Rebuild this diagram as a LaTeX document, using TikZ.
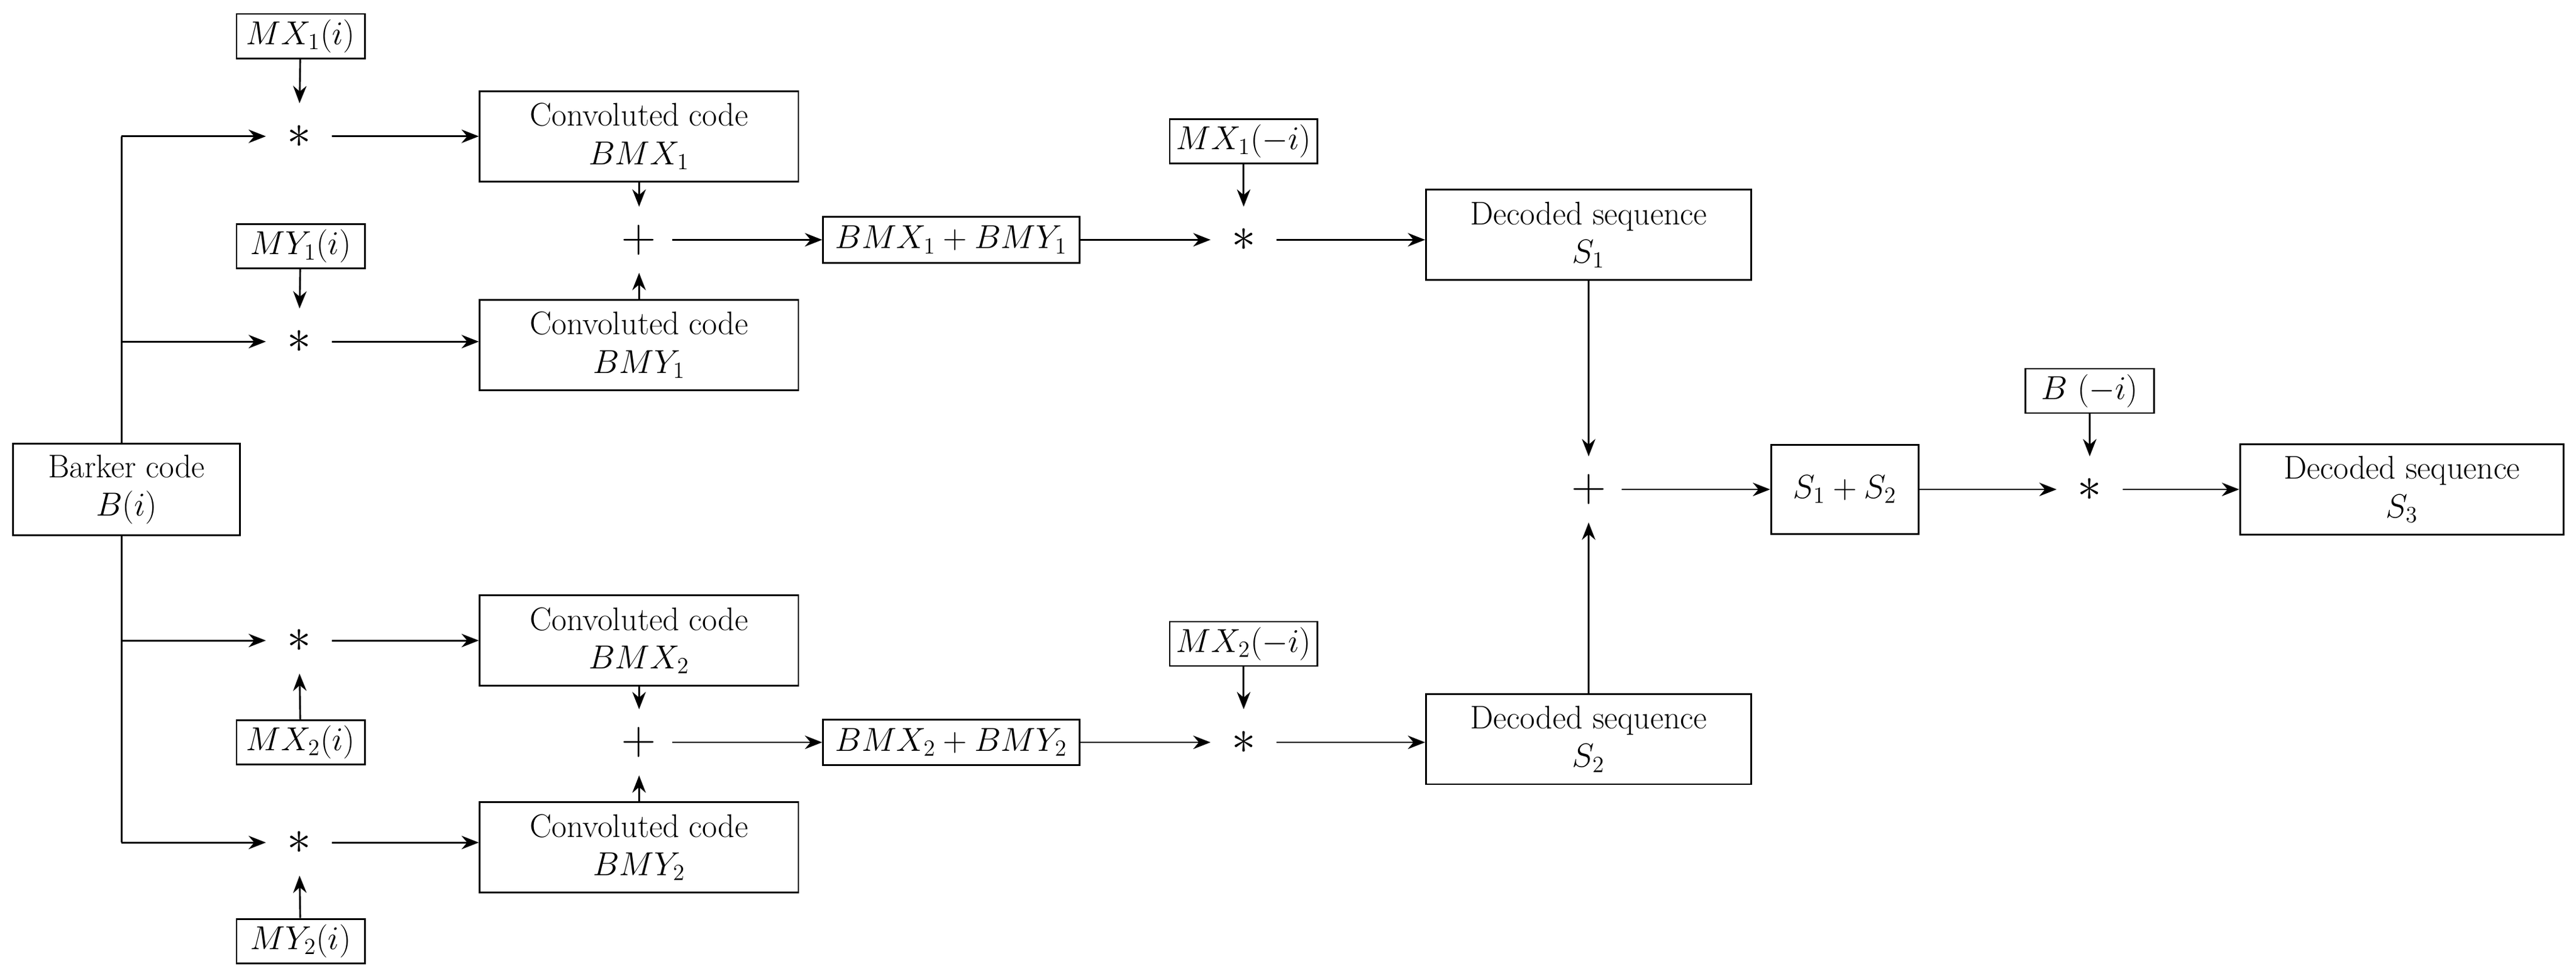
\documentclass[tikz,border=0pt]{standalone}
\usetikzlibrary{arrows.meta}
\begin{document}
\begin{tikzpicture}[x=0.03cm,y=-0.03cm,
  every node/.style={font=\fontsize{17}{20}\selectfont},
  box/.style={draw,line width=0.9pt,align=center,inner sep=0pt},
  op/.style={inner sep=0pt,minimum size=34,font=\fontsize{34}{34}\selectfont},
  ar/.style={-{Stealth[length=9pt,width=7pt]},line width=0.9pt},
  ln/.style={line width=0.9pt}]
\useasboundingbox (0,0) rectangle (1568,591);
\node[box,minimum width=138*0.03cm,minimum height=56*0.03cm] (bark) at (77,298) {Barker code\\$B(i)$};
\foreach \n/\y in {a/83,b/208,c/390,d/513}{
  \node[op] (s\n) at (182,\y) {$*$};
  \coordinate (j\n) at (74,\y);
}
\node[box,minimum width=78*0.03cm,minimum height=27*0.03cm] (m1) at (183,22) {$MX_1(i)$};
\node[box,minimum width=78*0.03cm,minimum height=27*0.03cm] (m2) at (183,150) {$MY_1(i)$};
\node[box,minimum width=78*0.03cm,minimum height=27*0.03cm] (m3) at (183,452) {$MX_2(i)$};
\node[box,minimum width=78*0.03cm,minimum height=27*0.03cm] (m4) at (183,573) {$MY_2(i)$};
\node[box,minimum width=194*0.03cm,minimum height=55*0.03cm] (ca) at (389,83) {Convoluted code\\$BMX_1$};
\node[box,minimum width=194*0.03cm,minimum height=55*0.03cm] (cb) at (389,210) {Convoluted code\\$BMY_1$};
\node[box,minimum width=194*0.03cm,minimum height=55*0.03cm] (cc) at (389,390) {Convoluted code\\$BMX_2$};
\node[box,minimum width=194*0.03cm,minimum height=55*0.03cm] (cd) at (389,516) {Convoluted code\\$BMY_2$};
\node[op] (p1) at (389,146) {$+$};
\node[op] (p2) at (389,452) {$+$};
\node[box,minimum width=156*0.03cm,minimum height=28*0.03cm] (u1) at (579,146) {$BMX_1+BMY_1$};
\node[box,minimum width=156*0.03cm,minimum height=28*0.03cm] (u2) at (579,452) {$BMX_2+BMY_2$};
\node[box,minimum width=90*0.03cm,minimum height=27*0.03cm] (n1) at (757,86) {$MX_1(-i)$};
\node[box,minimum width=90*0.03cm,minimum height=27*0.03cm] (n2) at (757,392) {$MX_2(-i)$};
\node[op] (t1) at (757,146) {$*$};
\node[op] (t2) at (757,452) {$*$};
\node[box,minimum width=198*0.03cm,minimum height=55*0.03cm] (d1) at (967,143) {Decoded sequence\\$S_1$};
\node[box,minimum width=198*0.03cm,minimum height=55*0.03cm] (d2) at (967,450) {Decoded sequence\\$S_2$};
\node[op] (p3) at (967,298) {$+$};
\node[box,minimum width=90*0.03cm,minimum height=54*0.03cm] (ss) at (1123,298) {$S_1+S_2$};
\node[box,minimum width=78*0.03cm,minimum height=27*0.03cm] (bm) at (1272,238) {$B\ (-i)$};
\node[op] (t3) at (1272,298) {$*$};
\node[box,minimum width=197*0.03cm,minimum height=55*0.03cm] (d3) at (1462,298) {Decoded sequence\\$S_3$};
\draw[ln] (bark.north -| ja) -- (ja);
\draw[ln] (bark.south -| jd) -- (jd);
\draw[ln] (ja) -- (jb); \draw[ln] (jc) -- (jd);
\foreach \n in {a,b,c,d}{ \draw[ar] (j\n) -- (s\n); }
\draw[ar] (m1) -- (sa); \draw[ar] (m2) -- (sb);
\draw[ar] (m3) -- (sc); \draw[ar] (m4) -- (sd);
\draw[ar] (sa) -- (ca); \draw[ar] (sb) -- (sb -| cb.west);
\draw[ar] (sc) -- (cc); \draw[ar] (sd) -- (sd -| cd.west);
\draw[ar] (ca) -- (p1); \draw[ar] (cb) -- (p1);
\draw[ar] (cc) -- (p2); \draw[ar] (cd) -- (p2);
\draw[ar] (p1) -- (u1); \draw[ar] (p2) -- (u2);
\draw[ar] (u1) -- (t1); \draw[ar] (u2) -- (t2);
\draw[ar] (n1) -- (t1); \draw[ar] (n2) -- (t2);
\draw[ar] (t1) -- (t1 -| d1.west); \draw[ar] (t2) -- (t2 -| d2.west);
\draw[ar] (d1) -- (p3); \draw[ar] (d2) -- (p3);
\draw[ar] (p3) -- (ss); \draw[ar] (ss) -- (t3);
\draw[ar] (bm) -- (t3); \draw[ar] (t3) -- (d3);
\end{tikzpicture}
\end{document}
